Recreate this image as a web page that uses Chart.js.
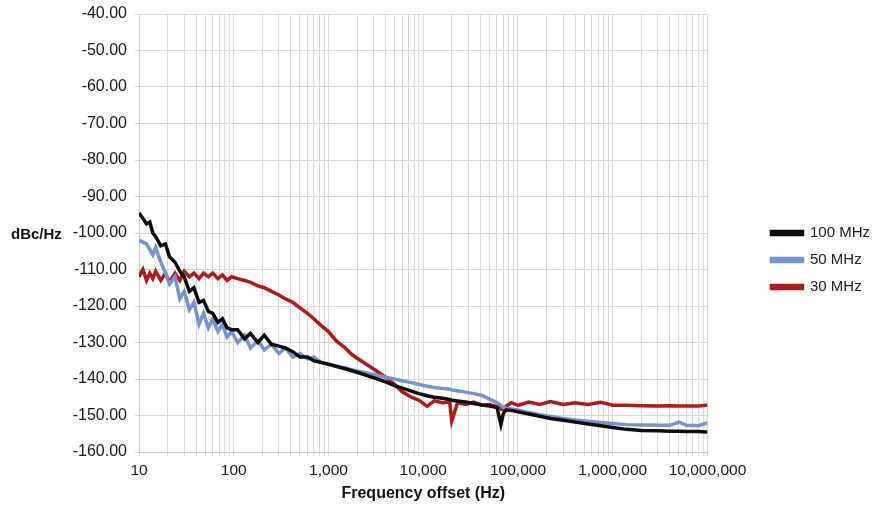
<!DOCTYPE html>
<html>
<head>
<meta charset="utf-8">
<script src="https://cdn.jsdelivr.net/npm/chart.js@4.4.1/dist/chart.umd.min.js"></script>
<style>
  body { margin: 0; background: #fff; }
  #wrap { width: 872px; height: 506px; }
</style>
</head>
<body>
<div id="wrap"><canvas id="noiseChart"></canvas></div>
<script>
// frequency offsets (Hz)
const freqs = [10, 11, 12, 13, 14, 15, 17, 19, 21, 24, 27, 30, 34, 38, 43, 48, 54, 60, 68, 76, 85, 95,
  110, 130, 150, 180, 210, 250, 300, 350, 420, 500, 600, 700, 850, 1000, 1200, 1500, 1800, 2200, 2700,
  3300, 4000, 5000, 6000, 7500, 9000, 11000, 13000, 16000, 19000, 20000, 23000, 28000, 34000, 42000,
  50000, 60000, 66000, 70000, 75000, 85000, 100000, 130000, 170000, 220000, 300000, 400000, 550000,
  750000, 1000000, 1400000, 2000000, 3000000, 4000000, 5000000, 6000000, 8000000, 10000000];

const mhz100 = [-94.5, -96, -97.5, -97, -100, -101, -103.5, -103, -106.5, -108, -110.5, -112, -116, -115,
  -119, -118.5, -121.5, -122, -124.5, -123.5, -126, -126.5, -126.5, -129, -127.5, -130, -128, -130.5,
  -131, -131.5, -132.5, -134, -134, -135, -135.5, -136, -136.5, -137.2, -137.8, -138.5, -139.3,
  -140, -140.8, -141.8, -142.5, -143.3, -144, -144.6, -145, -145.3, -145.6, -145.8, -146, -146.3,
  -146.7, -147.1, -147.4, -147.8, -152.5, -149.5, -148.5, -148.6, -149, -149.6, -150.2, -150.8,
  -151.3, -151.8, -152.3, -152.8, -153.3, -153.8, -154.1, -154.2, -154.3, -154.3, -154.4, -154.4, -154.5];

const mhz50 = [-102, -102.5, -103, -104.5, -106, -104, -108, -111, -114, -112, -118, -116, -121, -119,
  -125, -122, -126, -123.5, -127, -125, -128.5, -127, -130, -128, -131.5, -129.5, -132, -130.5, -133,
  -131.5, -134, -133, -134.5, -134, -135.5, -135.8, -136.5, -137, -137.5, -138, -138.5, -139, -139.5,
  -140, -140.5, -141, -141.5, -142, -142.3, -142.6, -142.8, -143, -143.2, -143.6, -144, -144.5, -145.5,
  -146.5, -147.2, -147.8, -148, -148.2, -148.5, -149.2, -149.8, -150.3, -150.8, -151.2, -151.6, -151.9,
  -152.2, -152.5, -152.6, -152.7, -152.7, -151.8, -152.7, -152.8, -152];

const mhz30 = [-112, -110, -113, -111, -112.5, -110.5, -113, -111, -113.5, -111, -113, -110.5, -112, -111,
  -112.5, -111, -112, -111, -112.5, -111.5, -113, -112, -112.5, -113, -113.5, -114.5, -115, -116, -117,
  -118, -119, -120.5, -122, -123.5, -125.5, -127, -129.5, -131.5, -133.5, -135, -136.5, -138, -139.5,
  -141.5, -143.5, -145, -145.8, -147.5, -146, -146.5, -146.3, -151.5, -146.5, -147, -146.3, -147.2, -147,
  -147.6, -148.2, -148.5, -147.5, -146.5, -147.2, -146.3, -147, -146.2, -147, -146.5, -147, -146.4,
  -147.2, -147.2, -147.3, -147.4, -147.3, -147.4, -147.4, -147.4, -147.2];

const seriesNames = ["100 MHz", "50 MHz", "30 MHz"];
const seriesColors = ["#0d0d0d", "#7393d3", "#b5191b"];

const xLabelValues = [10, 100, 1000, 10000, 100000, 1000000, 10000000];
const xLabels = ["10", "100", "1,000", "10,000", "100,000", "1,000,000", "10,000,000"];
const yMin = -160, yMax = -40, yStep = 10;
const xTitle = "Frequency offset (Hz)";
const yTitle = "dBc/Hz";

const FONT = '"Liberation Sans", Arial, sans-serif';
const GRID = "#d9d9d9";

function points(values) {
  return freqs.map((f, i) => ({ x: f, y: values[i] }));
}

// horizontal "dBc/Hz" label left of the y axis
const yTitlePlugin = {
  id: "yTitle",
  afterDraw(chart) {
    const { ctx, chartArea } = chart;
    ctx.save();
    ctx.font = "bold 15px " + FONT;
    ctx.fillStyle = "#111";
    ctx.textAlign = "left";
    ctx.textBaseline = "middle";
    ctx.fillText(yTitle, 11, (chartArea.top + chartArea.bottom) / 2 + 2);
    ctx.restore();
  }
};

const ctx = document.getElementById("noiseChart");

new Chart(ctx, {
  type: "line",
  data: {
    datasets: [mhz100, mhz50, mhz30].map((vals, i) => ({
      label: seriesNames[i],
      data: points(vals),
      borderColor: seriesColors[i],
      backgroundColor: seriesColors[i],
      borderWidth: 3.5,
      pointRadius: 0,
      tension: 0,
    })),
  },
  options: {
    responsive: true,
    maintainAspectRatio: false,
    animation: false,
    layout: { padding: { left: 73, right: -8, top: 14, bottom: 0 } },
    plugins: {
      tooltip: { enabled: false },
      legend: {
        position: "right",
        labels: {
          boxWidth: 31,
          boxHeight: 3,
          padding: 12,
          color: "#222",
          font: { family: FONT, size: 15 },
        },
      },
    },
    scales: {
      x: {
        type: "logarithmic",
        min: 10,
        max: 10000000,
        afterBuildTicks(scale) {
          const vals = [];
          for (let e = 1; e < 7; e++) {
            for (let d = 1; d < 10; d++) vals.push(d * Math.pow(10, e));
          }
          vals.push(10000000);
          scale.ticks = vals.map(v => ({ value: v }));
        },
        afterFit(scale) { scale.height = 54; },
        ticks: {
          autoSkip: false,
          maxRotation: 0,
          padding: 5,
          color: "#1a1a1a",
          font: { family: FONT, size: 15.5 },
          callback(value) {
            const k = xLabelValues.indexOf(value);
            return k >= 0 ? xLabels[k] : "";
          },
        },
        grid: { color: GRID, tickLength: 4 },
        border: { color: "#c8c8c8" },
        title: {
          display: true,
          text: xTitle,
          color: "#111",
          font: { family: FONT, size: 16, weight: "bold" },
          padding: { top: 2, bottom: 3 },
        },
      },
      y: {
        min: yMin,
        max: yMax,
        afterFit(scale) {
          scale.width = 66;
          scale.paddingTop = 0;
          scale.paddingBottom = 0;
        },
        ticks: {
          stepSize: yStep,
          padding: 8,
          color: "#1a1a1a",
          font: { family: FONT, size: 16 },
          callback: v => v.toFixed(2),
        },
        grid: { color: GRID, tickLength: 4 },
        border: { color: "#c8c8c8" },
      },
      // empty axis that only keeps a gap between the plot and the legend
      gap: {
        type: "linear",
        position: "right",
        display: true,
        afterFit(scale) { scale.width = 52; },
        ticks: { display: false },
        grid: { display: false, drawTicks: false },
        border: { display: false },
      },
    },
  },
  plugins: [yTitlePlugin],
});
</script>
</body>
</html>
